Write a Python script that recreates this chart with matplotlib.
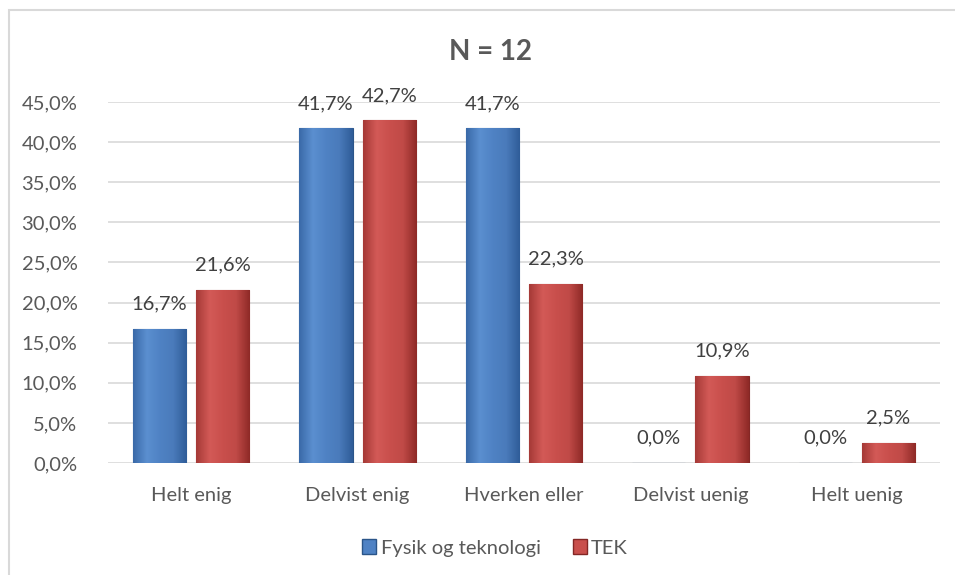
import numpy as np
import matplotlib.pyplot as plt
from matplotlib.patches import Rectangle
from matplotlib.colors import LinearSegmentedColormap

categories = ["Helt enig", "Delvist enig", "Hverken eller", "Delvist uenig", "Helt uenig"]
fysik = [16.7, 41.7, 41.7, 0.0, 0.0]
tek = [21.6, 42.7, 22.3, 10.9, 2.5]
series_names = ["Fysik og teknologi", "TEK"]
title = "N = 12"

plt.rcParams['font.family'] = ['Lato', 'DejaVu Sans']
txt_col = '#595959'

fig = plt.figure(figsize=(9.55, 5.75), dpi=100)
ax = fig.add_axes([108 / 955, 1 - 463 / 575, 832 / 955, 361 / 575])

# chart frame
fig.patches.append(Rectangle((9 / 955, -0.05), 1.2, 1 - 10 / 575 + 0.05,
                             transform=fig.transFigure, fill=False,
                             edgecolor='#d9d9d9', linewidth=1.5))

blue_cmap = LinearSegmentedColormap.from_list('b', ['#3a6aa8', '#5b8fd0', '#4f82c4', '#4a7bbb', '#2f5d99'])
red_cmap = LinearSegmentedColormap.from_list('r', ['#a63a37', '#d35a57', '#c94f4c', '#c04a47', '#8f2a27'])

x = np.arange(len(categories))
w = 0.32
off = 0.19


def fancy_bars(xpos, vals, cmap, edge):
    bars = ax.bar(xpos, vals, width=w, color=cmap(0.5), edgecolor=edge, linewidth=0.8, zorder=3)
    grad = np.linspace(0, 1, 64).reshape(1, -1)
    for b in bars:
        if b.get_height() <= 0:
            continue
        im = ax.imshow(grad, cmap=cmap, aspect='auto', zorder=3.5,
                       extent=[b.get_x(), b.get_x() + b.get_width(), 0, b.get_height()])
        im.set_clip_path(b)
    return bars


fancy_bars(x - off, fysik, blue_cmap, '#2b5589')
fancy_bars(x + off, tek, red_cmap, '#842725')

for xs, vals in ((x - off, fysik), (x + off, tek)):
    for xi, v in zip(xs, vals):
        ax.annotate(f"{v:.1f}%".replace('.', ','), (xi, v), xytext=(0, 18),
                    textcoords='offset points', ha='center', va='center',
                    fontsize=14.5, color='#404040')

ax.set_xlim(-0.5, len(categories) - 0.5)
ax.set_ylim(0, 45)
ax.set_yticks(np.arange(0, 46, 5))
ax.set_yticklabels([f"{t:.1f}%".replace('.', ',') for t in np.arange(0, 46, 5)])
ax.set_xticks(x)
ax.set_xticklabels(categories)
ax.tick_params(axis='both', length=0, labelsize=14.5, labelcolor=txt_col)
ax.tick_params(axis='y', pad=22)
ax.tick_params(axis='x', pad=17)
ax.grid(axis='y', color='#d9d9d9', linewidth=1.2, zorder=0)
ax.set_axisbelow(True)
for s in ax.spines.values():
    s.set_visible(False)

fig.text(490 / 955, 1 - 52 / 575, title, ha='center', va='center',
         fontsize=20, fontweight='bold', color=txt_col)

handles = [Rectangle((0, 0), 1, 1, facecolor='#4f82c4', edgecolor='#2b5589'),
           Rectangle((0, 0), 1, 1, facecolor='#c94f4c', edgecolor='#842725')]
leg = fig.legend(handles, series_names, loc='center', bbox_to_anchor=(495 / 955, 1 - 548 / 575),
                 ncol=2, frameon=False, fontsize=14.5, handlelength=0.7, handleheight=0.7,
                 handletextpad=0.2, columnspacing=1.6)
for t in leg.get_texts():
    t.set_color(txt_col)

fig.savefig('out.png', dpi=100)
